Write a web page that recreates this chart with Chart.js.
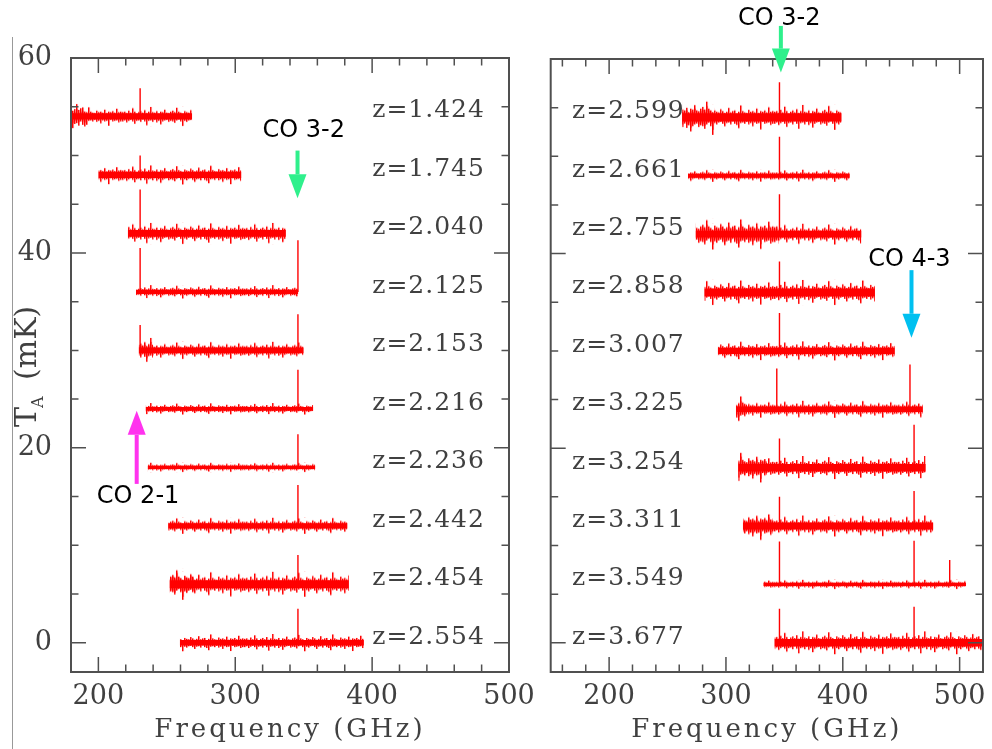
<!DOCTYPE html>
<html>
<head>
<meta charset="utf-8">
<script src="https://cdn.jsdelivr.net/npm/chart.js@4.4.1/dist/chart.umd.min.js"></script>
<style>
  body { margin: 0; background: #fff; width: 992px; height: 749px; overflow: hidden; position: relative; }
  #edge { position: absolute; left: 12px; top: 37px; width: 1px; height: 712px; background: #999; }
  #leftWrap { position: absolute; left: 0; top: 0; }
  #rightWrap { position: absolute; left: 530px; top: 0; }
</style>
</head>
<body>
<div id="edge"></div>
<div id="leftWrap"><canvas id="leftChart" width="550" height="749"></canvas></div>
<div id="rightWrap"><canvas id="rightChart" width="462" height="749"></canvas></div>
<script>
// Offset spectra, baselines stacked every 6 mK
const baselines = [54, 48, 42, 36, 30, 24, 18, 12, 6, 0];

// Left panel
const leftRedshifts = ['1.424', '1.745', '2.040', '2.125', '2.153', '2.216', '2.236', '2.442', '2.454', '2.554'];
const leftStart = [180, 200, 221.5, 227.5, 229.5, 234.5, 236, 251, 252, 259.5];
const leftEnd = [268.5, 304.5, 337, 346, 350, 357, 358.5, 382, 383, 394];
const leftNoise = [1.0, 1.0, 1.1, 0.7, 0.9, 0.6, 0.5, 0.85, 1.3, 0.9];
const leftLoud = [[180, 191, 1.7], null, null, null, [229.5, 240, 1.3], null, null, null, [252, 270, 1.6], null];
const leftSpikeFreq = [[230.5], [230.5], [230.5], [230.5, 345.8], [230.5, 345.8], [345.8], [345.8], [345.8], [345.8], [345.8]];
const leftSpikeHeight = [[2.9], [2.0], [4.5], [4.5, 5.3], [2.6, 3.7], [4.0], [3.4], [4.2], [3.0], [3.5]];

// Right panel
const rightRedshifts = ['2.599', '2.661', '2.755', '2.858', '3.007', '3.225', '3.254', '3.311', '3.549', '3.677'];
const rightStart = [262.5, 267.5, 274, 281.5, 293, 308.5, 310.5, 314.5, 332, 341.5];
const rightEnd = [399, 406, 416, 427.5, 444.5, 468.5, 471, 477.5, 505.5, 520];
const rightNoise = [1.3, 0.65, 1.1, 1.3, 1.0, 0.9, 1.2, 1.1, 0.5, 1.2];
const rightLoud = [[262.5, 290, 1.8], null, [274, 345, 1.6], null, null, [308.5, 318, 1.4], [310.5, 335, 1.6], [314.5, 340, 1.5], null, null];
const rightSpikeFreq = [[345.8], [345.8], [345.8], [345.8], [345.8], [343.5, 457.5], [345.8, 461], [345.8, 461], [345.8, 461, 491.5], [345.8, 461]];
const rightSpikeHeight = [[3.6], [4.0], [4.1], [3.2], [3.9], [4.2, 4.6], [3.0, 4.4], [3.0, 3.6], [4.4, 4.5, 2.5], [3.5, 3.7]];

// Tick values
const leftXTicks = [180, 200, 220, 240, 260, 280, 300, 320, 340, 360, 380, 400, 420, 440, 460, 480, 500];
const rightXTicks = [160, 180, 200, 220, 240, 260, 280, 300, 320, 340, 360, 380, 400, 420, 440, 460, 480, 500, 520];
const yTicks = [0, 5, 10, 15, 20, 25, 30, 35, 40, 45, 50, 55, 60];

const red = '#ff0000';
const ink = '#404040';
const serif = '"DejaVu Serif", serif';
const sans = '"DejaVu Sans", sans-serif';

// fixed hatch profile for the noise texture (a fill style, not data)
const hatchUp = [0.45, 0.5, 0.35, 0.6, 0.4, 0.85, 0.5, 0.3, 0.45, 0.55, 0.4, 0.65, 0.35, 0.5, 1.0, 0.45, 0.4, 0.55, 0.3, 0.5,
  0.45, 0.7, 0.4, 0.35, 0.5, 0.6, 0.45, 0.9, 0.5, 0.4, 0.3, 0.55, 0.45, 0.4, 0.65, 0.5, 0.35, 0.45, 0.75, 0.4, 0.5, 0.55,
  0.3, 0.45, 0.95, 0.5, 0.4, 0.35, 0.6, 0.45, 0.5, 0.4, 0.7, 0.35, 0.5, 0.45, 0.55, 0.4, 0.8, 0.45, 0.5];
const hatchDown = [0.5, 0.4, 0.6, 0.45, 0.35, 0.5, 0.75, 0.45, 0.4, 0.55, 0.3, 0.5, 0.9, 0.45, 0.4, 0.55, 0.35, 0.6, 0.45,
  0.8, 0.5, 0.4, 0.35, 0.55, 0.45, 0.5, 0.65, 0.4, 0.3, 0.5, 1.0, 0.45, 0.55, 0.4, 0.35, 0.5, 0.7, 0.45, 0.4, 0.55, 0.3,
  0.5, 0.6, 0.85, 0.45, 0.4, 0.5, 0.35, 0.55, 0.45, 0.7, 0.4, 0.5, 0.45, 0.95, 0.35, 0.5, 0.45, 0.4, 0.6, 0.5];
const hatchStep = 2;

const patternCache = {};
function noisePattern(chart, base, amp) {
  const y = chart.scales.y;
  if (!y || !chart.chartArea) return 'rgba(255,0,0,0.6)';
  const top = y.getPixelForValue(base + amp);
  const half = y.getPixelForValue(base) - top;
  if (!isFinite(half) || half < 1) return 'rgba(255,0,0,0.6)';
  const key = chart.id + ':' + base + ':' + amp;
  if (patternCache[key]) return patternCache[key];
  const tile = document.createElement('canvas');
  tile.width = hatchUp.length * hatchStep;
  tile.height = Math.ceil(half * 2);
  const t = tile.getContext('2d');
  t.fillStyle = red;
  hatchUp.forEach((u, c) => {
    t.fillRect(c * hatchStep, half - u * half, hatchStep - 0.5, (u + hatchDown[c]) * half);
  });
  const p = chart.ctx.createPattern(tile, 'repeat');
  p.setTransform(new DOMMatrix([1, 0, 0, 1, 0, top]));
  patternCache[key] = p;
  return p;
}

const clear = 'rgba(0,0,0,0)';
function band(s, e, lo, hi, color) {
  return [
    { data: [{ x: s, y: lo }, { x: e, y: lo }], borderWidth: 0, borderColor: clear, fill: false },
    { data: [{ x: s, y: hi }, { x: e, y: hi }], borderWidth: 0, borderColor: clear, fill: '-1', backgroundColor: color }
  ];
}

function spectrumDatasets(starts, ends, noise, loud, spikeFreq, spikeHeight) {
  const ds = [];
  starts.forEach((s, i) => {
    const e = ends[i], b = baselines[i], a = noise[i];
    ds.push(...band(s, e, b - a, b + a, c => noisePattern(c.chart, b, a)));
    if (loud[i]) {
      const [ls, le, la] = loud[i];
      ds.push(...band(ls, le, b - la, b + la, c => noisePattern(c.chart, b, la)));
    }
    ds.push(...band(s, e, b - a * 0.32, b + a * 0.32, red));
    spikeFreq[i].forEach((f, k) => {
      ds.push({ data: [{ x: f, y: b }, { x: f, y: b + spikeHeight[i][k] }], borderColor: red, borderWidth: 1.4, fill: false });
    });
  });
  return ds;
}

function drawArrow(ctx, x, yFrom, yTip, color) {
  const dir = Math.sign(yTip - yFrom);
  const headLen = 24, headHalf = 9;
  ctx.strokeStyle = color;
  ctx.fillStyle = color;
  ctx.lineWidth = 4;
  ctx.beginPath();
  ctx.moveTo(x, yFrom);
  ctx.lineTo(x, yTip - dir * headLen);
  ctx.stroke();
  ctx.beginPath();
  ctx.moveTo(x - headHalf, yTip - dir * headLen);
  ctx.lineTo(x + headHalf, yTip - dir * headLen);
  ctx.lineTo(x, yTip);
  ctx.closePath();
  ctx.fill();
}

// Box with inward ticks on all four sides, z labels, line markers and titles
const framePlugin = {
  id: 'frame',
  afterDraw(chart, args, opts) {
    const { ctx, chartArea: ca, scales: { x, y } } = chart;
    ctx.save();
    ctx.strokeStyle = '#505050';
    ctx.lineWidth = 2;
    ctx.strokeRect(ca.left, ca.top, ca.right - ca.left, ca.bottom - ca.top);
    ctx.lineWidth = 1.5;
    ctx.beginPath();
    opts.xTicks.forEach(v => {
      const px = x.getPixelForValue(v);
      if (px <= ca.left + 1 || px >= ca.right - 1) return;
      const len = v % 100 === 0 ? 15 : 7.5;
      ctx.moveTo(px, ca.bottom); ctx.lineTo(px, ca.bottom - len);
      ctx.moveTo(px, ca.top); ctx.lineTo(px, ca.top + len);
    });
    yTicks.forEach(v => {
      const py = y.getPixelForValue(v);
      if (py <= ca.top + 1) return;
      const len = v % 20 === 0 ? 15 : 7.5;
      ctx.moveTo(ca.left, py); ctx.lineTo(ca.left + len, py);
      ctx.moveTo(ca.right, py); ctx.lineTo(ca.right - len, py);
    });
    ctx.stroke();

    // redshift labels
    ctx.fillStyle = ink;
    ctx.font = '25px ' + serif;
    ctx.letterSpacing = '1px';
    ctx.textAlign = 'right';
    ctx.textBaseline = 'alphabetic';
    opts.labels.forEach((z, i) => {
      ctx.fillText('z=' + z, x.getPixelForValue(opts.labelFreq), y.getPixelForValue(baselines[i] - 0.1));
    });
    ctx.letterSpacing = '0px';

    // line markers
    opts.arrows.forEach(a => {
      drawArrow(ctx, x.getPixelForValue(a.freq), y.getPixelForValue(a.from), y.getPixelForValue(a.tip), a.color);
    });
    ctx.fillStyle = '#000';
    ctx.font = '24px ' + sans;
    ctx.textAlign = 'center';
    ctx.textBaseline = 'middle';
    opts.notes.forEach(n => {
      ctx.fillText(n.text, x.getPixelForValue(n.freq), y.getPixelForValue(n.t));
    });

    // axis titles
    ctx.fillStyle = ink;
    ctx.font = '26px ' + serif;
    ctx.letterSpacing = '3px';
    ctx.textAlign = 'center';
    ctx.textBaseline = 'alphabetic';
    ctx.fillText('Frequency (GHz)', (ca.left + ca.right) / 2, 737);
    ctx.letterSpacing = '0px';
    if (opts.yTitle) {
      ctx.translate(36, 427);
      ctx.rotate(-Math.PI / 2);
      ctx.textAlign = 'left';
      ctx.font = '30px ' + serif;
      ctx.fillText('T', 0, 0);
      ctx.font = '16px ' + serif;
      ctx.fillText('A', 19, 7);
      ctx.font = '30px ' + serif;
      ctx.fillText('(mK)', 47, 0);
    }
    ctx.restore();
  }
};

function makePanel(id, cfg) {
  const chart = new Chart(document.getElementById(id), {
    type: 'line',
    data: { datasets: cfg.datasets },
    options: {
      responsive: false,
      animation: false,
      events: [],
      layout: { padding: cfg.padding },
      elements: { point: { radius: 0 }, line: { tension: 0, borderColor: red } },
      plugins: { legend: { display: false }, tooltip: { enabled: false }, frame: cfg.frame },
      scales: {
        x: {
          type: 'linear', min: cfg.xMin, max: cfg.xMax,
          afterBuildTicks: s => { s.ticks = cfg.frame.xTicks.map(v => ({ value: v })); },
          afterFit: s => { s.height = 77; },
          grid: { display: false, drawTicks: false },
          border: { display: false },
          ticks: {
            autoSkip: false, maxRotation: 0, padding: 9, color: ink,
            font: { family: serif, size: 27 },
            callback: v => (v % 100 === 0 ? String(v) : '')
          }
        },
        y: {
          type: 'linear', min: -3, max: 60,
          afterBuildTicks: s => { s.ticks = yTicks.map(v => ({ value: v })); },
          afterFit: s => { s.width = cfg.yWidth; },
          grid: { display: false, drawTicks: false },
          border: { display: false },
          ticks: {
            display: cfg.yLabels, autoSkip: false, padding: 19, color: ink,
            font: { family: serif, size: 27 },
            callback: v => (v % 20 === 0 ? String(v) : '')
          }
        }
      }
    },
    plugins: [framePlugin]
  });
  // second pass so the noise texture is built against the final layout
  chart.update('none');
  return chart;
}

makePanel('leftChart', {
  datasets: spectrumDatasets(leftStart, leftEnd, leftNoise, leftLoud, leftSpikeFreq, leftSpikeHeight),
  padding: { top: 58, right: 41, bottom: 0, left: 0 },
  xMin: 180, xMax: 500, yWidth: 71, yLabels: true,
  frame: {
    xTicks: leftXTicks, labels: leftRedshifts, labelFreq: 482.4, yTitle: true,
    arrows: [
      { freq: 345.5, from: 50.5, tip: 45.6, color: '#2ff08c' },
      { freq: 228, from: 16.3, tip: 23.8, color: '#ff33ee' }
    ],
    notes: [
      { text: 'CO 3-2', freq: 350, t: 52.5 },
      { text: 'CO 2-1', freq: 229, t: 15 }
    ]
  }
});

makePanel('rightChart', {
  datasets: spectrumDatasets(rightStart, rightEnd, rightNoise, rightLoud, rightSpikeFreq, rightSpikeHeight),
  padding: { top: 59, right: 2.7, bottom: 0, left: 0 },
  xMin: 150, xMax: 520, yWidth: 20.7, yLabels: false,
  frame: {
    xTicks: rightXTicks, labels: rightRedshifts, labelFreq: 264.7, yTitle: false,
    arrows: [
      { freq: 347, from: 63.4, tip: 58.6, color: '#2ff08c' },
      { freq: 458.8, from: 38.3, tip: 31.35, color: '#00c0f0' }
    ],
    notes: [
      { text: 'CO 3-2', freq: 345.6, t: 64.1 },
      { text: 'CO 4-3', freq: 457, t: 39.4 }
    ]
  }
});
</script>
</body>
</html>
